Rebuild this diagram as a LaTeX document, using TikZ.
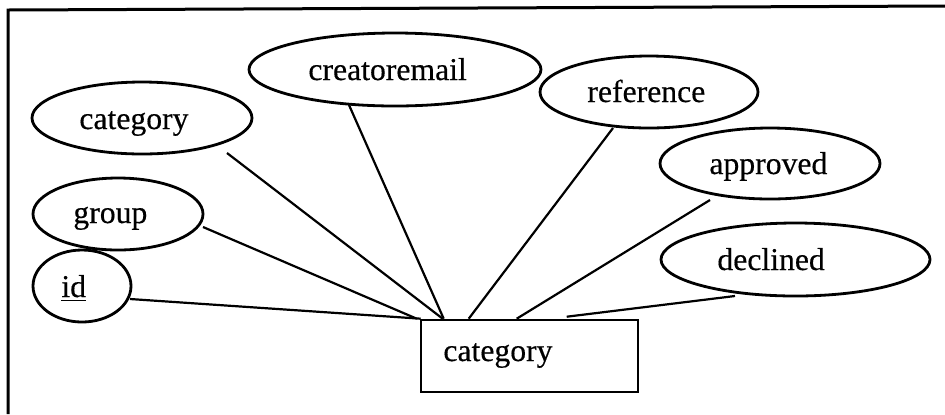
\documentclass[tikz,border=0pt]{standalone}
\usepackage{fontspec}
\setmainfont{Liberation Serif}
\newfontfamily\labelfont[FakeBold=0.4]{Liberation Serif}
\usetikzlibrary{shapes.geometric,calc}

\begin{document}
\begin{tikzpicture}[
  x=0.5pt, y=-0.5pt,
  attr/.style={draw, ellipse, line width=1.4pt, inner sep=0pt},
  entity/.style={draw, rectangle, line width=1.3pt, inner sep=0pt,
                 minimum width=108.5pt, minimum height=36pt},
  lbl/.style={anchor=base west, inner sep=0pt,
              font=\labelfont\fontsize{15.85}{19}\selectfont},
  link/.style={line width=1.1pt},
  frame/.style={line width=1.5pt}
]
\useasboundingbox (0,0) rectangle (945,414);

% page frame (top and left edges)
\coordinate (fl) at (8,414);
\coordinate (ftl) at (8,10);
\coordinate (ftr) at (945,6);
\draw[frame] (fl) -- (ftl) -- (ftr);

% attributes
\node[attr, minimum width=110pt, minimum height=36pt]   (cat) at (142,118)   {};
\node[attr, minimum width=146pt, minimum height=36.5pt] (cre) at (395,69.5)  {};
\node[attr, minimum width=109pt, minimum height=36pt]   (ref) at (649,92)    {};
\node[attr, minimum width=110pt, minimum height=35.5pt] (app) at (770,163.5) {};
\node[attr, minimum width=134.5pt, minimum height=36.5pt] (dec) at (795.5,259.5) {};
\node[attr, minimum width=85pt, minimum height=36pt]    (grp) at (118,214)   {};
\node[attr, minimum width=49pt, minimum height=36pt]    (id)  at (82,286)    {};

% entity
\node[entity] (ent) at (529.5,356) {};

% labels
\node[lbl] (cat-t) at (79,129)  {category};
\node[lbl] (cre-t) at (308,80)  {creatoremail};
\node[lbl] (ref-t) at (587,102) {reference};
\node[lbl] (app-t) at (709,174) {approved};
\node[lbl] (dec-t) at (717,270) {declined};
\node[lbl] (grp-t) at (73,223)  {group};
\node[lbl] (id-t)  at (61,297)  {\underline{id}};
\node[lbl] (ent-t) at (443,361) {category};

% connectors from each attribute to the entity
\draw[link] ($(id.center)+(48,13)$)      -- ($(ent.north west)+(1,0)$);
\draw[link] ($(grp.center)+(85,13)$)     -- ($(ent.north west)+(-3,0)$);
\draw[link] ($(cat.center)+(85,35)$)     -- ($(ent.north west)+(23,0)$);
\draw[link] ($(cre.center)+(-46,35.5)$)  -- ($(ent.north west)+(24,0)$);
\draw[link] ($(ref.center)+(-36,36)$)    -- ($(ent.north west)+(49,0)$);
\draw[link] ($(app.center)+(-60,36.5)$)  -- ($(ent.north west)+(97,0)$);
\draw[link] ($(dec.center)+(-60.5,36.5)$) -- ($(ent.north west)+(147,-2)$);
\end{tikzpicture}
\end{document}
